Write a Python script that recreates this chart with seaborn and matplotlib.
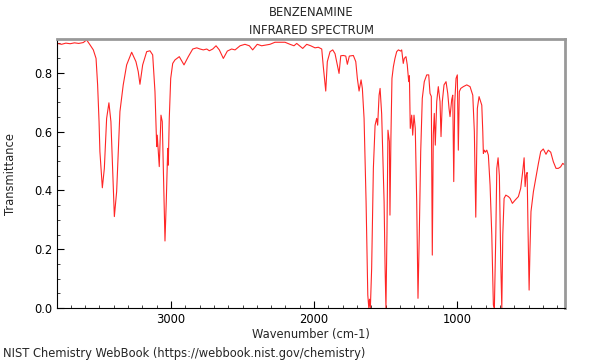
import pandas as pd
import numpy as np
import matplotlib
matplotlib.use("Agg")
import matplotlib.pyplot as plt
from matplotlib.ticker import MultipleLocator, FormatStrFormatter
import seaborn as sns

# Benzenamine IR spectrum
wavenumber = [
    3795, 3765, 3735, 3705, 3675, 3645, 3613, 3590, 3566, 3543, 3524, 3513, 3503, 3497,
    3480, 3466, 3450, 3434, 3420, 3408, 3396, 3380, 3357, 3334, 3310, 3275, 3245, 3229,
    3217, 3198, 3170, 3147, 3128, 3112, 3100, 3096, 3091, 3082, 3070, 3061, 3054, 3042,
    3033, 3023, 3019, 3012, 3002, 2988, 2972, 2942, 2909, 2879, 2848, 2820, 2797, 2774,
    2750, 2732, 2708, 2685, 2662, 2634, 2606, 2576, 2552, 2517, 2483, 2452, 2429, 2397,
    2366, 2331, 2308, 2273, 2238, 2203, 2168, 2140, 2121, 2079, 2051, 2023, 1993, 1970,
    1946, 1935, 1918, 1907, 1888, 1869, 1853, 1837, 1825, 1813, 1795, 1778, 1767, 1753,
    1725, 1708, 1697, 1685, 1671, 1662, 1650, 1636, 1624, 1617, 1612, 1606, 1597, 1585,
    1573, 1562, 1555, 1545, 1538, 1527, 1515, 1510, 1503, 1497, 1490, 1483, 1473, 1469,
    1462, 1455, 1445, 1434, 1422, 1410, 1394, 1387, 1376, 1369, 1357, 1348, 1338, 1333,
    1327, 1317, 1310, 1301, 1292, 1282, 1273, 1264, 1254, 1243, 1229, 1212, 1198, 1189,
    1180, 1173, 1166, 1159, 1152, 1142, 1131, 1119, 1112, 1103, 1091, 1077, 1065, 1056,
    1049, 1037, 1030, 1023, 1016, 1007, 998, 991, 984, 974, 956, 932, 909, 890,
    879, 869, 858, 846, 827, 820, 816, 809, 802, 792, 781, 769, 757, 746,
    739, 729, 722, 713, 704, 694, 687, 680, 671, 659, 641, 629, 613, 594,
    571, 555, 541, 531, 524, 517, 510, 503, 496, 490, 483, 466, 450, 431,
    415, 397, 378, 362, 345, 327, 308, 292, 276, 261, 245,
]
transmittance = [
    0.900, 0.897, 0.901, 0.899, 0.902, 0.900, 0.903, 0.912, 0.895, 0.878, 0.849, 0.759, 0.634, 0.532,
    0.409, 0.475, 0.645, 0.698, 0.634, 0.475, 0.311, 0.396, 0.668, 0.759, 0.827, 0.870, 0.838, 0.804,
    0.761, 0.827, 0.872, 0.875, 0.861, 0.736, 0.549, 0.588, 0.549, 0.481, 0.656, 0.634, 0.475, 0.228,
    0.362, 0.543, 0.486, 0.645, 0.781, 0.832, 0.844, 0.855, 0.827, 0.855, 0.881, 0.885, 0.881, 0.878,
    0.881, 0.875, 0.881, 0.892, 0.878, 0.849, 0.874, 0.881, 0.878, 0.892, 0.897, 0.892, 0.878, 0.897,
    0.892, 0.895, 0.897, 0.904, 0.904, 0.904, 0.897, 0.892, 0.900, 0.883, 0.897, 0.892, 0.885, 0.887,
    0.881, 0.821, 0.738, 0.838, 0.872, 0.878, 0.865, 0.827, 0.798, 0.858, 0.859, 0.857, 0.829, 0.857,
    0.859, 0.838, 0.781, 0.738, 0.776, 0.747, 0.645, 0.362, 0.044, 0.000, 0.030, 0.000, 0.135, 0.475,
    0.622, 0.645, 0.622, 0.724, 0.747, 0.660, 0.450, 0.362, 0.135, 0.000, 0.250, 0.605, 0.566, 0.316,
    0.588, 0.781, 0.821, 0.849, 0.872, 0.878, 0.874, 0.878, 0.832, 0.849, 0.855, 0.827, 0.770, 0.790,
    0.611, 0.656, 0.588, 0.656, 0.611, 0.362, 0.033, 0.250, 0.532, 0.713, 0.770, 0.793, 0.793, 0.730,
    0.720, 0.180, 0.588, 0.662, 0.554, 0.702, 0.753, 0.702, 0.583, 0.702, 0.759, 0.770, 0.730, 0.679,
    0.651, 0.710, 0.724, 0.430, 0.700, 0.781, 0.793, 0.537, 0.736, 0.747, 0.753, 0.759, 0.753, 0.724,
    0.600, 0.309, 0.679, 0.719, 0.690, 0.600, 0.526, 0.537, 0.530, 0.537, 0.520, 0.418, 0.248, 0.010,
    0.000, 0.248, 0.475, 0.511, 0.450, 0.150, 0.000, 0.250, 0.373, 0.384, 0.379, 0.373, 0.356, 0.367,
    0.379, 0.407, 0.464, 0.511, 0.413, 0.452, 0.461, 0.250, 0.061, 0.200, 0.328, 0.396, 0.441, 0.492,
    0.532, 0.541, 0.523, 0.537, 0.530, 0.498, 0.475, 0.475, 0.480, 0.492, 0.486,
]

df = pd.DataFrame({"wavenumber": wavenumber, "transmittance": transmittance})

sns.set_style("ticks")
plt.rcParams['font.family'] = ['DejaVu Sans']
fs = 8.3

fig = plt.figure(figsize=(6, 3.6), dpi=100)
ax = fig.add_axes([0.095, 0.1444, 0.8467, 0.7464])

sns.lineplot(data=df, x="wavenumber", y="transmittance", ax=ax,
             color="red", linewidth=0.8, alpha=0.85, estimator=None)

ax.set_xlim(3797, 245)
ax.set_ylim(0, 0.914)

ax.xaxis.set_major_locator(MultipleLocator(1000))
ax.xaxis.set_minor_locator(MultipleLocator(100))
ax.yaxis.set_major_locator(MultipleLocator(0.2))
ax.yaxis.set_minor_locator(MultipleLocator(0.05))
ax.yaxis.set_major_formatter(FormatStrFormatter('%.1f'))
ax.tick_params(which='major', direction='in', length=5, width=0.8, labelsize=fs, colors='black')
ax.tick_params(which='minor', direction='in', length=2.5, width=0.6)

for side in ['top', 'right']:
    ax.spines[side].set_color('#999999')
    ax.spines[side].set_linewidth(2)
for side in ['left', 'bottom']:
    ax.spines[side].set_color('black')
    ax.spines[side].set_linewidth(0.8)

ax.set_xlabel("Wavenumber (cm-1)", fontsize=fs, labelpad=1.5)
ax.set_ylabel("Transmittance", fontsize=fs, labelpad=12)
ax.set_title("BENZENAMINE\nINFRARED SPECTRUM", fontsize=fs, linespacing=1.5, pad=4)

fig.text(0.005, 0.008, "NIST Chemistry WebBook (https://webbook.nist.gov/chemistry)", fontsize=fs)

plt.savefig("out.png", dpi=100)
plt.close()
